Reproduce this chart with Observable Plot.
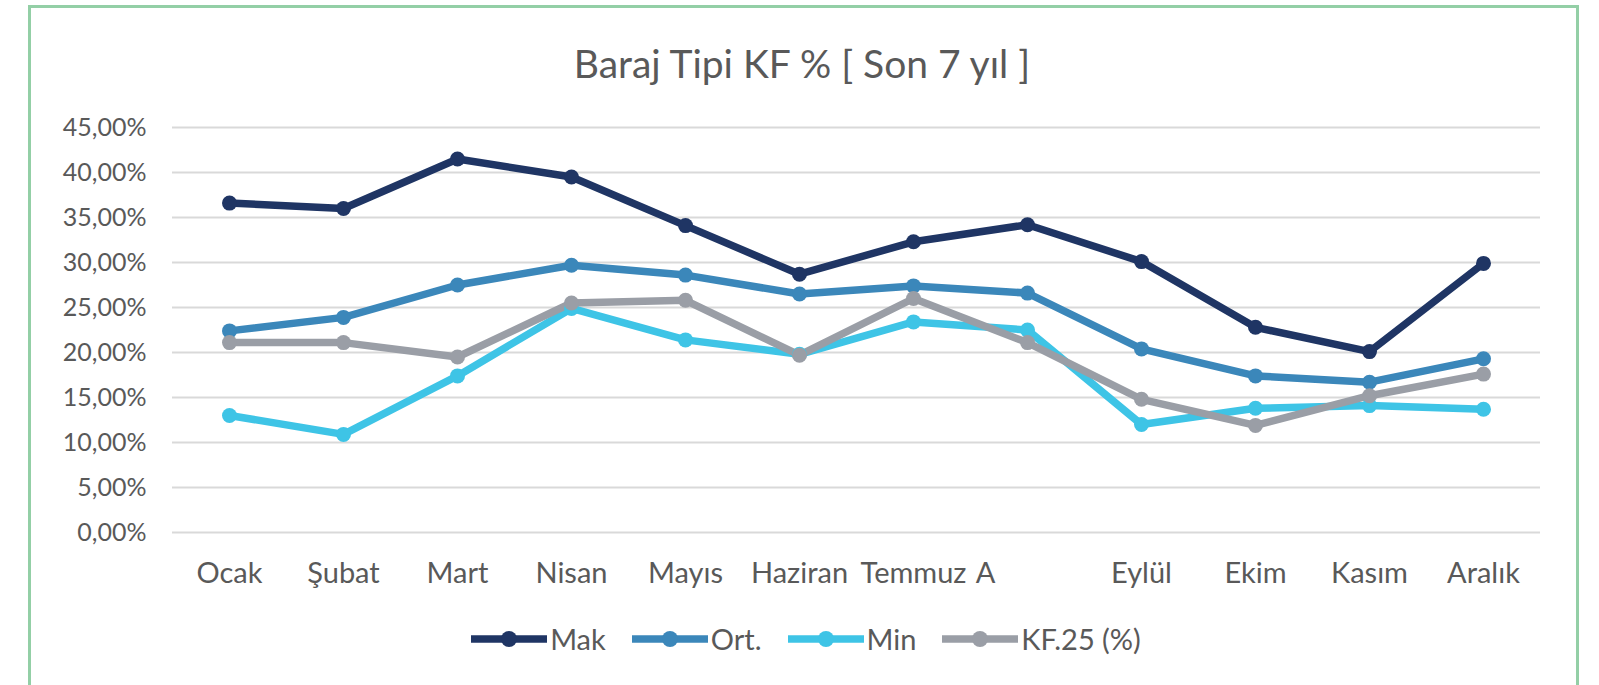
<!DOCTYPE html>
<html>
<head>
<meta charset="utf-8">
<script src="https://cdn.jsdelivr.net/npm/d3@7"></script>
<script src="https://cdn.jsdelivr.net/npm/@observablehq/plot@0.6"></script>
<style>
  html, body { margin: 0; padding: 0; background: #ffffff; }
  #wrap { position: relative; width: 1599px; height: 685px; overflow: hidden; background: #ffffff; font-family: Lato, "Open Sans", sans-serif; }
  #frame { position: absolute; left: 28px; top: 5px; width: 1551px; height: 700px; border: 3px solid #93cfa6; box-sizing: border-box; }
  #title { position: absolute; left: 0; width: 1604px; top: 40px; text-align: center; font-size: 39px; color: #595959; white-space: pre; }
  #chart { position: absolute; left: 0; top: 0; }
  #legend { position: absolute; left: 0; width: 1612px; top: 621px; display: flex; justify-content: center; align-items: center; gap: 26px; font-size: 29px; color: #595959; }
  .item { display: flex; align-items: center; gap: 3px; }
</style>
</head>
<body>
<div id="wrap">
  <div id="frame"></div>
  <div id="chart"></div>
  <div id="title">Baraj Tipi KF % [ Son 7 yıl ]</div>
  <div id="legend"></div>
</div>
<script>
// ---- data ----
const months = ["Ocak", "Şubat", "Mart", "Nisan", "Mayıs", "Haziran", "Temmuz", "Ağustos", "Eylül", "Ekim", "Kasım", "Aralık"];
const seriesNames = ["Mak", "Ort.", "Min", "KF.25 (%)"];
const mak  = [36.6, 36.0, 41.5, 39.5, 34.1, 28.7, 32.3, 34.2, 30.1, 22.8, 20.1, 29.9];
const ort  = [22.4, 23.9, 27.5, 29.7, 28.6, 26.5, 27.4, 26.6, 20.4, 17.4, 16.7, 19.3];
const minV = [13.0, 10.9, 17.4, 24.9, 21.4, 19.8, 23.4, 22.5, 12.0, 13.8, 14.1, 13.7];
const kf25 = [21.1, 21.1, 19.5, 25.5, 25.8, 19.7, 26.0, 21.1, 14.8, 11.9, 15.2, 17.6];
const yTicks = [0, 5, 10, 15, 20, 25, 30, 35, 40, 45];
const colors = ["#1f3564", "#3b87ba", "#3ec4e6", "#9a9ea6"];

const seriesValues = [mak, ort, minV, kf25];
const rows = [];
seriesNames.forEach((s, i) => months.forEach((m, j) => rows.push({series: s, month: m, value: seriesValues[i][j]})));

const fmt = d => d.toFixed(2).replace(".", ",") + "%";

const plot = Plot.plot({
  width: 1599,
  height: 685,
  marginLeft: 172,
  marginRight: 59,
  marginTop: 127,
  marginBottom: 153,
  style: {fontFamily: "Lato, 'Open Sans', sans-serif", fontSize: "26px", color: "#595959", background: "transparent", overflow: "visible"},
  x: {type: "point", domain: months, padding: 0.5},
  y: {domain: [0, 45]},
  color: {domain: seriesNames, range: colors},
  marks: [
    Plot.ruleY(yTicks, {stroke: "#d9d9d9", strokeWidth: 2, strokeOpacity: 1}),
    Plot.axisY({ticks: yTicks, tickSize: 0, tickPadding: 26, tickFormat: fmt, fill: "#595959", fontSize: 25, label: null}),
    Plot.axisX({ticks: months.filter(m => m !== "Ağustos"), tickSize: 0, tickPadding: 30, fill: "#595959", fontSize: 29, label: null}),
    Plot.axisX({ticks: ["Ağustos"], tickSize: 0, tickPadding: 30, tickFormat: () => "A", dx: -42, fill: "#595959", fontSize: 29, label: null}),
    Plot.line(rows, {x: "month", y: "value", z: "series", stroke: "series", strokeWidth: 7.5, curve: "linear"}),
    Plot.dot(rows, {x: "month", y: "value", fill: "series", r: 7.5, stroke: "none"})
  ]
});
document.getElementById("chart").appendChild(plot);

// legend
const legend = document.getElementById("legend");
seriesNames.forEach((s, i) => {
  const item = document.createElement("div");
  item.className = "item";
  item.innerHTML = `<svg width="76" height="20"><line x1="1" x2="75" y1="10" y2="10" stroke="${colors[i]}" stroke-width="7.5" stroke-linecap="round"/><circle cx="38" cy="10" r="8" fill="${colors[i]}"/></svg><span>${s}</span>`;
  legend.appendChild(item);
});
</script>
</body>
</html>
